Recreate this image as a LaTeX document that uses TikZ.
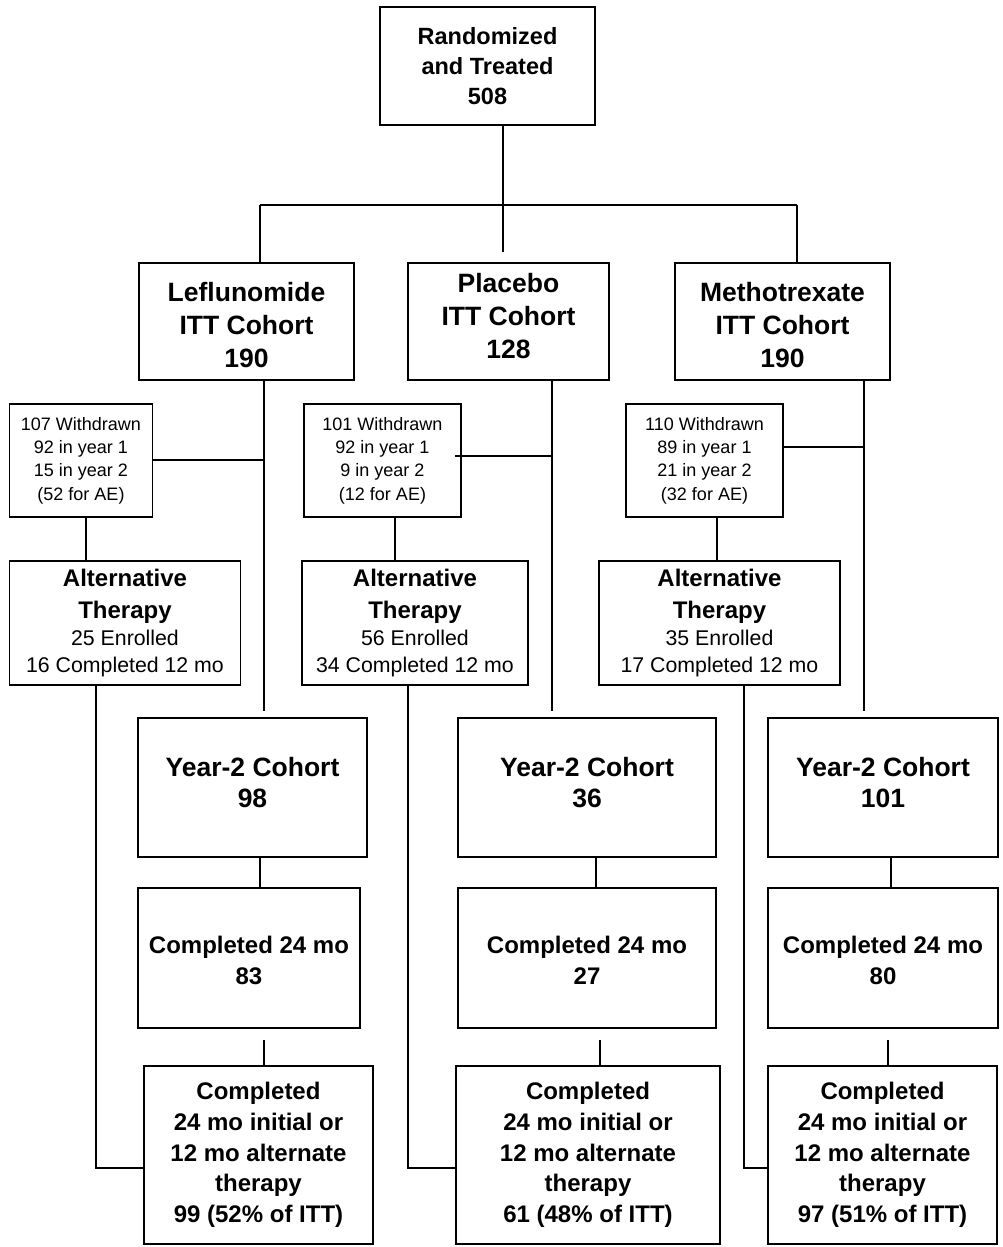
\documentclass[tikz,border=0pt]{standalone}
\usepackage{fontspec}
\setmainfont{Liberation Sans}
\begin{document}
\begin{tikzpicture}[x=1pt,y=-1pt,
  box/.style={draw=black, line width=1.8pt, rectangle, inner sep=0pt, align=center},
  conn/.style={draw=black, line width=1.5pt},
  topfont/.style={font=\fontsize{23.5}{30}\selectfont\bfseries},
  armfont/.style={font=\fontsize{26.5}{33}\selectfont\bfseries},
  wdfont/.style={font=\fontsize{18}{23.3}\selectfont},
  altfont/.style={font=\fontsize{24}{31.7}\selectfont\bfseries},
  yrfont/.style={font=\fontsize{26.5}{31.7}\selectfont\bfseries},
  cmpfont/.style={font=\fontsize{24}{31}\selectfont\bfseries},
  finfont/.style={font=\fontsize{24}{30.7}\selectfont\bfseries}]
\useasboundingbox (0,0) rectangle (1002,1247);
\fill[white] (0,0) rectangle (1002,1247);

% boxes
\node[box, topfont, minimum width=215pt, minimum height=118pt] (top) at (487.5,66) {Randomized\\and Treated\\508};

\node[box, minimum width=215pt, minimum height=117pt,
  label={[armfont, align=center, yshift=-4pt]center:{Leflunomide\\ITT Cohort\\190}}] (lef) at (246.5,321.5) {};
\node[box, minimum width=201pt, minimum height=117pt,
  label={[armfont, align=center, yshift=5pt]center:{Placebo\\ITT Cohort\\128}}] (pla) at (508.5,321.5) {};
\node[box, minimum width=215pt, minimum height=117pt,
  label={[armfont, align=center, yshift=-4pt]center:{Methotrexate\\ITT Cohort\\190}}] (met) at (782.5,321.5) {};

\node[box, wdfont, minimum width=143pt, minimum height=113pt] (w1) at (81,460.5) {107 Withdrawn\\92 in year 1\\15 in year 2\\(52 for AE)};
\node[box, wdfont, minimum width=157pt, minimum height=113pt] (w2) at (382.5,460.5) {101 Withdrawn\\92 in year 1\\9 in year 2\\(12 for AE)};
\node[box, wdfont, minimum width=157pt, minimum height=113pt] (w3) at (704.5,460.5) {110 Withdrawn\\89 in year 1\\21 in year 2\\(32 for AE)};

\node[box, altfont, minimum width=231pt, minimum height=124pt] (a1) at (125,623) {Alternative\\Therapy\\[-5pt]\mdseries\fontsize{21.3}{24}\selectfont 25 Enrolled\\[-5pt]\mdseries\fontsize{21.3}{24}\selectfont 16 Completed 12 mo};
\node[box, altfont, minimum width=226pt, minimum height=124pt] (a2) at (415,623) {Alternative\\Therapy\\[-5pt]\mdseries\fontsize{21.3}{24}\selectfont 56 Enrolled\\[-5pt]\mdseries\fontsize{21.3}{24}\selectfont 34 Completed 12 mo};
\node[box, altfont, minimum width=241pt, minimum height=124pt] (a3) at (719.5,623) {Alternative\\Therapy\\[-5pt]\mdseries\fontsize{21.3}{24}\selectfont 35 Enrolled\\[-5pt]\mdseries\fontsize{21.3}{24}\selectfont 17 Completed 12 mo};

\node[box, minimum width=229pt, minimum height=139pt,
  label={[yrfont, align=center, yshift=5pt]center:{Year-2 Cohort\\98}}] (y1) at (252.5,787.5) {};
\node[box, minimum width=258pt, minimum height=139pt,
  label={[yrfont, align=center, yshift=5pt]center:{Year-2 Cohort\\36}}] (y2) at (587,787.5) {};
\node[box, minimum width=230pt, minimum height=139pt,
  label={[yrfont, align=center, yshift=5pt]center:{Year-2 Cohort\\101}}] (y3) at (883,787.5) {};

\node[box, minimum width=222pt, minimum height=140pt,
  label={[cmpfont, align=center, yshift=-2pt]center:{Completed 24 mo\\83}}] (c1) at (249,958) {};
\node[box, minimum width=258pt, minimum height=140pt,
  label={[cmpfont, align=center, yshift=-2pt]center:{Completed 24 mo\\27}}] (c2) at (587,958) {};
\node[box, minimum width=230pt, minimum height=140pt,
  label={[cmpfont, align=center, yshift=-2pt]center:{Completed 24 mo\\80}}] (c3) at (883,958) {};

\node[box, finfont, minimum width=229pt, minimum height=178pt] (f1) at (258.5,1155) {Completed\\24 mo initial or\\12 mo alternate\\therapy\\99 (52\% of ITT)};
\node[box, finfont, minimum width=264pt, minimum height=178pt] (f2) at (588,1155) {Completed\\24 mo initial or\\12 mo alternate\\therapy\\61 (48\% of ITT)};
\node[box, finfont, minimum width=229pt, minimum height=178pt] (f3) at (882.5,1155) {Completed\\24 mo initial or\\12 mo alternate\\therapy\\97 (51\% of ITT)};

% free ends
\coordinate (hl) at (260,205);
\coordinate (hr) at (797,205);
\coordinate (hm) at (503,205);
\coordinate (plaend) at (503,252);
\coordinate (lefend) at (264,711);
\coordinate (plaend2) at (552,711);
\coordinate (metend) at (864,711);
\coordinate (w1j) at (264,460);
\coordinate (w2s) at (455,456);
\coordinate (w2j) at (552,456);
\coordinate (w3j) at (865,447);
\coordinate (c1s) at (264,1040);
\coordinate (c2s) at (600,1040);
\coordinate (c3s) at (888,1040);

% connectors
\draw[conn] (top.south -| hm) -- (plaend);
\draw[conn] (hl) -- (hr);
\draw[conn] (hl) -- (lef.north -| hl);
\draw[conn] (hr) -- (met.north -| hr);

\draw[conn] (lef.south -| lefend) -- (lefend);
\draw[conn] (pla.south -| plaend2) -- (plaend2);
\draw[conn] (met.south -| metend) -- (metend);

\draw[conn] (w1.east |- w1j) -- (w1j);
\draw[conn] (w2s) -- (w2j);
\draw[conn] (w3.east |- w3j) -- (w3j);

\draw[conn] (w1.south -| 86,0) -- (a1.north -| 86,0);
\draw[conn] (w2.south -| 395,0) -- (a2.north -| 395,0);
\draw[conn] (w3.south -| 717,0) -- (a3.north -| 717,0);

\draw[conn] (a1.south -| 96,0) |- (f1.west |- 0,1168);
\draw[conn] (a2.south -| 408,0) |- (f2.west |- 0,1168);
\draw[conn] (a3.south -| 744,0) |- (f3.west |- 0,1168);

\draw[conn] (y1.south -| 260,0) -- (c1.north -| 260,0);
\draw[conn] (y2.south -| 596,0) -- (c2.north -| 596,0);
\draw[conn] (y3.south -| 891,0) -- (c3.north -| 891,0);

\draw[conn] (c1s) -- (f1.north -| c1s);
\draw[conn] (c2s) -- (f2.north -| c2s);
\draw[conn] (c3s) -- (f3.north -| c3s);
\end{tikzpicture}
\end{document}
